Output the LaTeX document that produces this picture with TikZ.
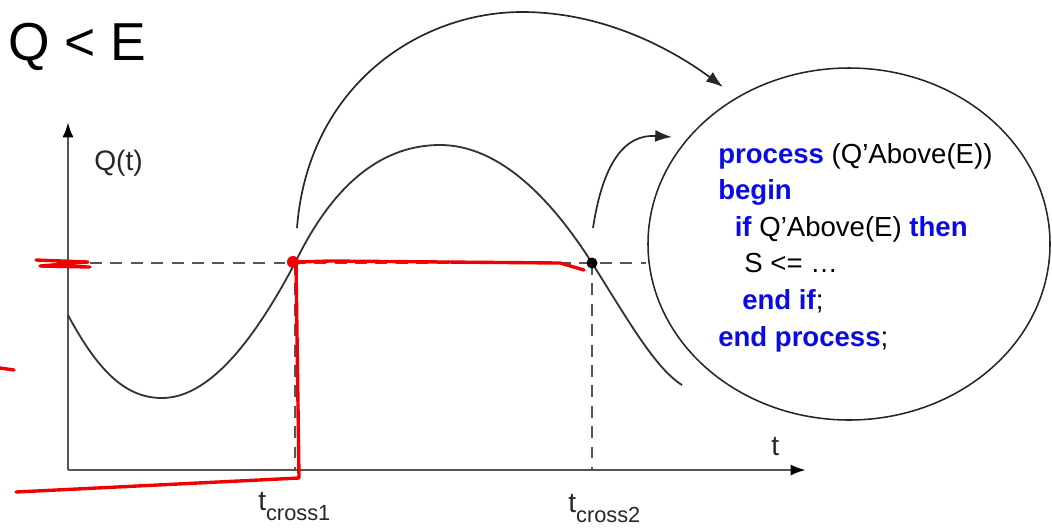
\documentclass[tikz,border=0pt]{standalone}
\usepackage{fontspec}
\setmainfont{Liberation Sans}
\usetikzlibrary{arrows.meta, shapes.geometric}

\definecolor{kwblue}{RGB}{10,10,230}
\definecolor{axisgray}{RGB}{85,85,85}
\definecolor{markred}{RGB}{240,0,0}

\newcommand{\tsub}[1]{t\raisebox{-7.5pt}{\fontsize{15.5}{16}\selectfont #1}}

\begin{document}
\begin{tikzpicture}[x=0.025cm, y=-0.025cm,
  axis/.style={line width=1.9pt, axisgray, -{Latex[length=11pt, width=8pt, color=black]}},
  curve/.style={line width=1.3pt, black!80},
  guide/.style={line width=1.7pt, axisgray, dash pattern=on 8.5pt off 6pt},
  arrow/.style={line width=1.2pt, black!85, -{Latex[length=12pt, width=8.5pt]}},
  redmark/.style={line width=2.4pt, markred, line cap=round, line join=round},
  label/.style={inner sep=0pt, font=\fontsize{20}{22}\selectfont, text=black!85}
]
\useasboundingbox (0,0) rectangle (1052,529);

% title
\node (title) [anchor=base west, inner sep=0pt, font=\fontsize{38}{40}\selectfont] at (8,60) {Q < E};

% axes
\coordinate (origin) at (68,470);
\coordinate (ytop) at (68,122);
\coordinate (xend) at (806,470);
\draw [axis] (origin) -- (ytop);
\draw [axis] (origin) -- (xend);
\node (qlabel) [label, anchor=base west] at (94,170) {Q(t)};
\node (tlabel) [label, anchor=base west] at (771,455) {t};

% crossing points
\coordinate (cross1) at (295,263);
\coordinate (cross2) at (592,263);
\coordinate (foot1) at (295,470);
\coordinate (foot2) at (592,470);
\coordinate (levelstart) at (90,263);
\coordinate (levelend) at (646,263);
\draw [guide] (levelstart) -- (levelend);
\draw [guide] (cross1) -- (foot1);
\draw [guide] (cross2) -- (foot2);
\node (t1) [label, anchor=base west] at (258,510) {\tsub{cross1}};
\node (t2) [label, anchor=base west] at (568,512) {\tsub{cross2}};

% Q(t)
\draw [curve] (68,315) .. controls (100,375) and (128,398) .. (162,398)
  .. controls (215,398) and (262,325) .. (cross1)
  .. controls (335,180) and (385,145) .. (440,145)
  .. controls (500,145) and (552,200) .. (cross2)
  .. controls (628,320) and (655,368) .. (682,385);
\fill [black] (cross2) circle (5.5);

% process bubble
\node (proc) [ellipse, draw=black!85, line width=1.1pt, minimum width=402*0.025cm, minimum height=352*0.025cm, inner sep=0pt] at (849,244) {};
\node (code) [anchor=north west, inner sep=0pt, align=left, font=\fontsize{19.6}{26}\selectfont] at (718,143) {%
  \textcolor{kwblue}{\bfseries process} (Q'Above(E))\\
  \textcolor{kwblue}{\bfseries begin}\\
  \hspace{0.6em}\textcolor{kwblue}{\bfseries if} Q'Above(E) \textcolor{kwblue}{\bfseries then}\\
  \hspace{0.95em}S <= \dots\\
  \hspace{0.87em}\textcolor{kwblue}{\bfseries end if};\\
  \textcolor{kwblue}{\bfseries end process};};

% event arrows
\coordinate (rise1) at (297,228);
\coordinate (hit1) at (723,87);
\coordinate (rise2) at (593,228);
\coordinate (hit2) at (672,137);
\draw [arrow] (rise1) .. controls (308,85) and (420,12) .. (522,12)
  .. controls (610,12) and (680,55) .. (hit1);
\draw [arrow] (rise2) .. controls (603,162) and (625,134) .. (hit2);

% hand marks
\draw [redmark] (36,260) -- (88,262) -- (40,266) -- (90,267);
\draw [redmark] (0,368) -- (14,370);
\draw [redmark] (16,492) -- (299,478) -- (296,262) -- (330,261) -- (560,263) -- (584,270);
\fill [markred] (293,262) circle (6);
\end{tikzpicture}
\end{document}
